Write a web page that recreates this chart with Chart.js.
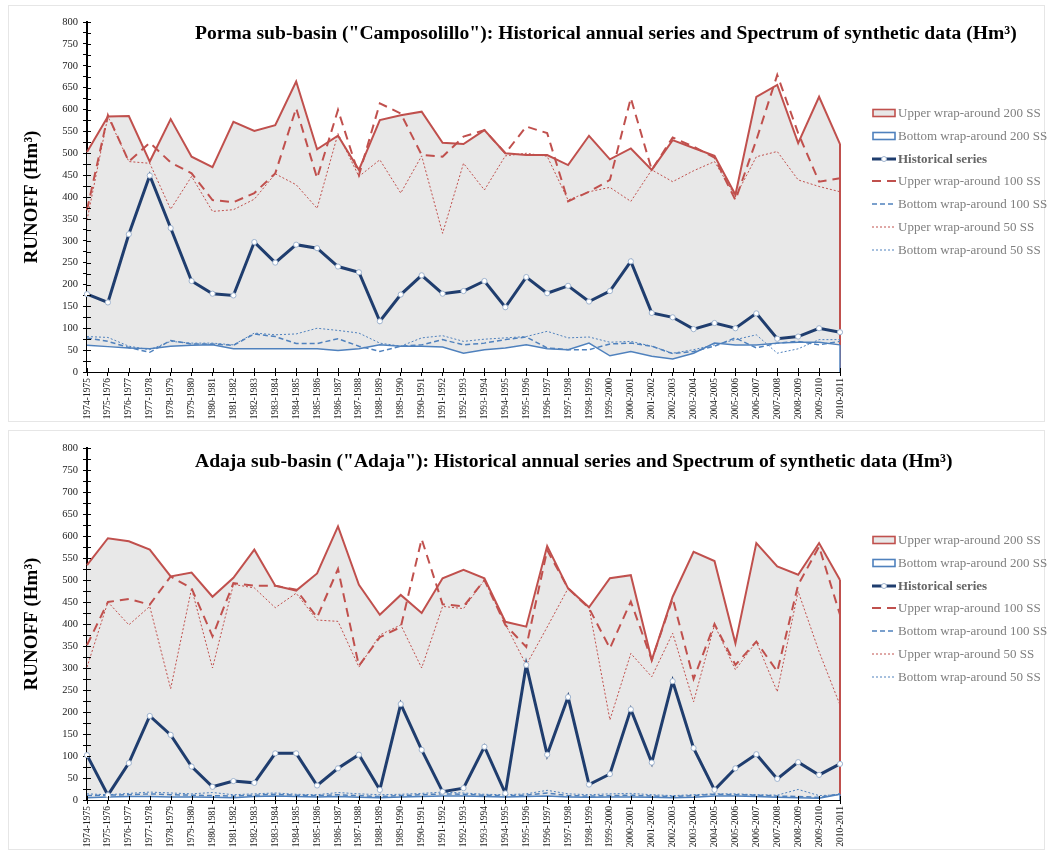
<!DOCTYPE html>
<html><head><meta charset="utf-8">
<script src="https://cdn.jsdelivr.net/npm/chart.js@4.4.1/dist/chart.umd.min.js"></script>
<style>
body{margin:0;background:#fff;width:1053px;height:855px;position:relative;overflow:hidden;font-family:"Liberation Serif","Times New Roman",serif;}
.panel{position:absolute;left:8px;width:1037px;border:1px solid #e6e6e6;box-sizing:border-box;}
canvas{position:absolute;left:0;}
.title{position:absolute;left:195px;font-weight:bold;font-size:19.6px;color:#000;white-space:nowrap;line-height:22px;}
.legend{position:absolute;left:872px;font-size:13px;color:#7f7f7f;}
.row{position:absolute;left:0;height:16px;white-space:nowrap;}
.row svg{position:absolute;left:0;top:3px;}
.row span{position:absolute;left:26px;top:0;line-height:16px;}
</style></head>
<body>
<div class="panel" style="top:5px;height:417px;"></div>
<div class="panel" style="top:430px;height:420px;"></div>
<canvas id="c1" width="1053" height="425" style="top:0"></canvas>
<canvas id="c2" width="1053" height="430" style="top:425px"></canvas>
<div class="title" style="top:22px;">Porma sub-basin ("Camposolillo"): Historical annual series and Spectrum of synthetic data (Hm³)</div>
<div class="title" style="top:450px;">Adaja sub-basin ("Adaja"): Historical annual series and Spectrum of synthetic data (Hm³)</div>
<div class="legend" id="lg1" style="top:105px;"></div>
<div class="legend" id="lg2" style="top:532px;"></div>
<script>
const years = ["1974-1975","1975-1976","1976-1977","1977-1978","1978-1979","1979-1980","1980-1981","1981-1982","1982-1983","1983-1984","1984-1985","1985-1986","1986-1987","1987-1988","1988-1989","1989-1990","1990-1991","1991-1992","1992-1993","1993-1994","1994-1995","1995-1996","1996-1997","1997-1998","1998-1999","1999-2000","2000-2001","2001-2002","2002-2003","2003-2004","2004-2005","2005-2006","2006-2007","2007-2008","2008-2009","2009-2010","2010-2011"];
const seriesNames = ["Upper wrap-around 200 SS","Bottom wrap-around 200 SS","Historical series","Upper wrap-around 100 SS","Bottom wrap-around 100 SS","Upper wrap-around 50 SS","Bottom wrap-around 50 SS"];
const yTickValues = [0,50,100,150,200,250,300,350,400,450,500,550,600,650,700,750,800];

// Porma sub-basin ("Camposolillo")
const pormaUp200 = [503,584,585,481,578,492,468,572,551,564,664,509,540,462,576,587,595,524,521,553,500,496,496,473,540,486,511,462,530,512,494,405,629,656,523,629,521];
const pormaBot200 = [61,58,55,53,59,61,62,53,53,53,53,53,49,53,62,59,59,57,43,51,55,62,53,51,66,37,47,36,30,43,66,62,62,66,68,68,62];
const pormaHist = [178,159,315,449,329,208,179,175,297,250,291,283,241,228,116,177,221,179,185,208,148,217,180,197,161,185,253,135,125,98,112,100,134,76,81,100,91];
const pormaUp100 = [370,587,481,524,479,454,393,388,409,454,603,443,599,450,614,591,496,492,538,553,500,561,546,390,412,439,626,462,536,515,490,393,530,679,546,435,443];
const pormaBot100 = [78,70,56,45,72,64,64,61,87,81,65,65,76,59,47,59,62,74,62,66,74,80,55,51,51,64,66,59,42,47,59,78,55,66,70,62,70];
const pormaUp50 = [347,584,481,477,372,447,367,371,395,453,428,374,545,447,485,409,494,317,477,416,494,500,493,393,412,422,390,462,435,460,481,401,492,504,439,424,412];
const pormaBot50 = [81,79,59,51,70,66,66,62,89,85,87,100,95,89,66,59,78,83,70,75,78,81,93,78,80,68,70,59,43,51,62,74,85,43,53,74,74];

// Adaja sub-basin ("Adaja")
const adajaUp200 = [534,595,588,569,508,517,462,505,569,487,476,515,622,489,421,466,425,504,523,504,405,394,577,481,438,504,511,318,462,564,543,356,584,531,512,584,500];
const adajaBot200 = [5,7,8,8,7,7,6,5,8,9,8,7,8,6,5,7,8,9,9,8,7,8,9,7,6,7,7,6,5,6,9,9,8,6,5,4,13];
const adajaHist = [102,11,84,191,148,76,30,43,39,106,106,33,72,103,23,218,114,19,27,121,15,307,103,234,35,59,206,85,270,118,23,72,104,48,86,57,82];
const adajaUp100 = [352,450,457,444,508,481,372,493,487,487,478,415,525,305,370,393,593,445,440,500,398,348,568,481,436,345,451,318,458,275,400,307,360,292,489,576,421];
const adajaBot100 = [10,11,12,14,12,11,10,9,11,13,11,10,12,10,8,10,12,14,13,11,10,11,16,10,9,10,11,9,8,10,13,12,11,9,8,6,14];
const adajaUp50 = [302,450,398,440,253,481,300,490,482,437,470,409,406,302,375,398,300,440,435,500,400,307,393,481,438,182,333,280,379,223,398,296,360,246,474,337,216];
const adajaBot50 = [14,12,15,18,16,14,17,12,14,16,13,12,17,14,12,13,15,18,16,13,12,14,22,14,12,14,15,12,10,12,14,14,12,11,24,10,12];

const RED = '#C0504D', BLUE = '#4F81BD', NAVY = '#1F3D6E', GRAY = '#E8E8E8';
const styles = [
  {color:RED, width:2, dash:[], fill:GRAY, order:10, edge:true},
  {color:BLUE, width:1.5, dash:[], fill:'#ffffff', order:9, edge:true},
  {color:NAVY, width:3, dash:[], order:1, points:true},
  {color:RED, width:2, dash:[9,6], order:4},
  {color:BLUE, width:1.5, dash:[5,3], order:3},
  {color:RED, width:1, dash:[2,2], order:6},
  {color:BLUE, width:1, dash:[2,2], order:5}
];

const edgePlugin = {
  id:'edges',
  afterDatasetDraw(chart, args){
    const ds = chart.data.datasets[args.index];
    if(!ds.areaEdge) return;
    const pts = args.meta.data;
    const last = pts[pts.length-1];
    const y0 = chart.scales.y.getPixelForValue(0);
    const ctx = chart.ctx;
    ctx.save(); ctx.strokeStyle = ds.borderColor; ctx.lineWidth = ds.borderWidth;
    ctx.beginPath(); ctx.moveTo(last.x,last.y); ctx.lineTo(last.x,y0); ctx.stroke(); ctx.restore();
  },
  afterDraw(chart){
    const ctx = chart.ctx, xs = chart.scales.x, ys = chart.scales.y;
    ctx.save(); ctx.strokeStyle = '#000'; ctx.lineWidth = 1;
    ys.ticks.forEach((t,i)=>{const p=Math.round(ys.getPixelForTick(i))+0.5; ctx.beginPath(); ctx.moveTo(ys.right,p); ctx.lineTo(ys.right+4,p); ctx.stroke();});
    xs.ticks.forEach((t,i)=>{const p=Math.round(xs.getPixelForTick(i))+0.5; ctx.beginPath(); ctx.moveTo(p,xs.top); ctx.lineTo(p,xs.top-4); ctx.stroke();});
    ctx.restore();
  }
};

function makeChart(id, series, pad){
  const datasets = series.map((vals,i)=>{
    const s = styles[i];
    return {
      label: seriesNames[i], data: vals, borderColor: s.color, borderWidth: s.width,
      borderDash: s.dash, backgroundColor: s.fill || s.color, fill: s.fill ? 'origin' : false,
      order: s.order, tension: 0, areaEdge: !!s.edge,
      pointRadius: s.points ? 2.6 : 0, pointBackgroundColor:'#ffffff', pointBorderColor:'#9FB4CF',
      pointBorderWidth: 1, borderJoinStyle:'miter'
    };
  });
  return new Chart(document.getElementById(id), {
    type:'line',
    data:{labels:years, datasets},
    plugins:[edgePlugin],
    options:{
      responsive:false, animation:false, devicePixelRatio:1,
      layout:{padding:pad},
      plugins:{legend:{display:false}, tooltip:{enabled:false}, title:{display:false}},
      scales:{
        x:{
          type:'category', offset:false,
          grid:{drawOnChartArea:false, drawTicks:true, tickLength:4, color:'#000', lineWidth:1},
          border:{display:true, color:'#000', width:2},
          ticks:{autoSkip:false, maxRotation:90, minRotation:90, padding:2, color:'#222',
            font:{family:'"Liberation Serif", serif', size:9.5}},
          afterFit(s){ s.height = 48; }
        },
        y:{
          min:0, max:800,
          grid:{drawOnChartArea:false, drawTicks:true, tickLength:4, color:'#000', lineWidth:1},
          border:{display:true, color:'#000', width:2},
          ticks:{stepSize:25, autoSkip:false, padding:5, color:'#222',
            font:{family:'"Liberation Serif", serif', size:10.5},
            callback:(v)=> yTickValues.includes(v) ? String(v) : ''},
          title:{display:true, text:'RUNOFF (Hm³)', color:'#000', padding:{top:21,bottom:0},
            font:{family:'"Liberation Serif", serif', size:19, weight:'bold'}},
          afterFit(s){ s.width = 87; }
        }
      }
    }
  });
}

makeChart('c1', [pormaUp200,pormaBot200,pormaHist,pormaUp100,pormaBot100,pormaUp50,pormaBot50], {top:22,right:213,bottom:5,left:0});
makeChart('c2', [adajaUp200,adajaBot200,adajaHist,adajaUp100,adajaBot100,adajaUp50,adajaBot50], {top:23,right:213,bottom:7,left:0});

function swatch(i){
  const s = styles[i];
  if(s.fill){
    return `<svg width="24" height="10"><rect x="1" y="1.5" width="22" height="7" fill="${s.fill}" stroke="${s.color}" stroke-width="1.6"/></svg>`;
  }
  const dash = s.dash.length ? `stroke-dasharray="${s.dash.join(',')}"` : '';
  let svg = `<svg width="24" height="10"><line x1="0" y1="5" x2="24" y2="5" stroke="${s.color}" stroke-width="${s.width}" ${dash}/>`;
  if(s.points) svg += `<circle cx="12" cy="5" r="2.5" fill="#fff" stroke="#9FB4CF" stroke-width="1"/>`;
  return svg + '</svg>';
}
function buildLegend(id){
  const el = document.getElementById(id);
  seriesNames.forEach((n,i)=>{
    const r = document.createElement('div');
    r.className = 'row';
    r.style.top = (i*22.8) + 'px';
    const bold = styles[i].points ? 'font-weight:bold;color:#666;' : '';
    r.innerHTML = swatch(i) + `<span style="${bold}">${n}</span>`;
    el.appendChild(r);
  });
}
buildLegend('lg1'); buildLegend('lg2');
</script>
</body></html>
